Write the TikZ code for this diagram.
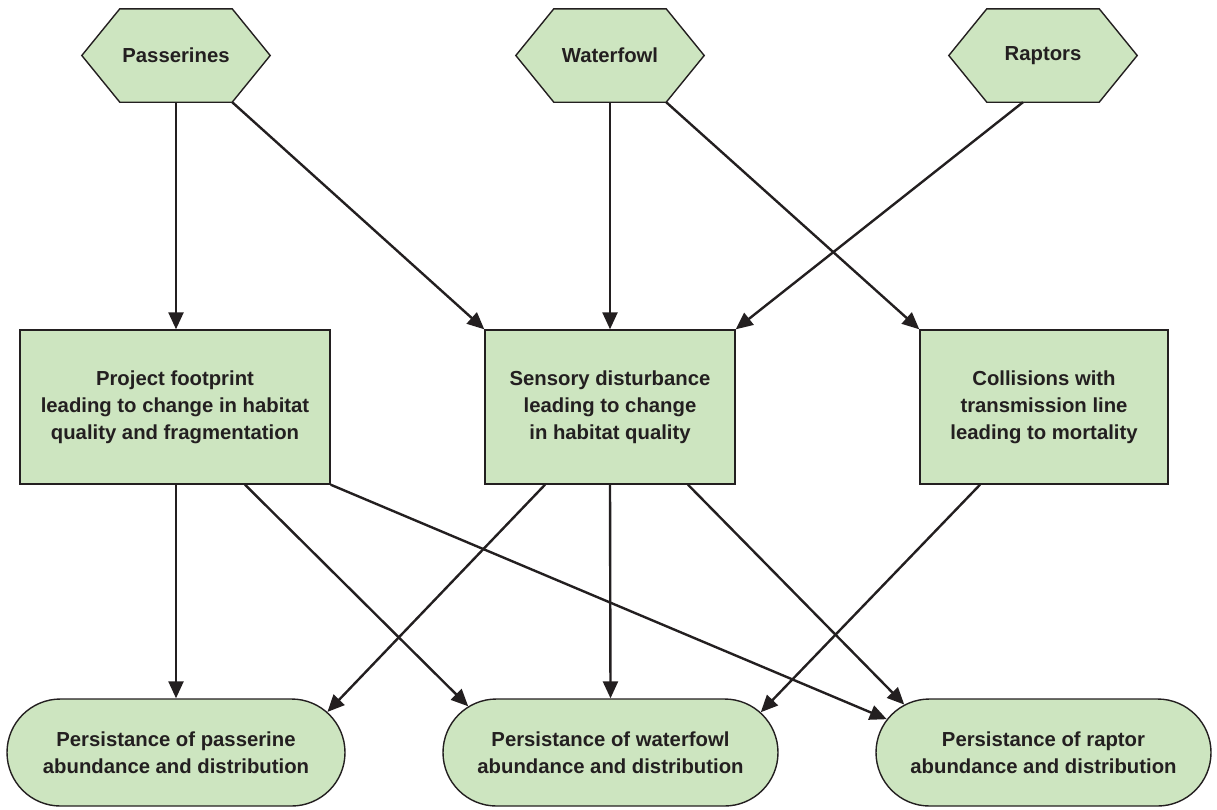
\documentclass[tikz,border=0pt]{standalone}
\usepackage{fontspec}
\setmainfont{Liberation Sans}
\usetikzlibrary{arrows.meta,backgrounds,shapes.misc}
\definecolor{boxfill}{HTML}{CDE5C0}
\definecolor{ink}{HTML}{231F20}
\begin{document}
\begin{tikzpicture}[x=1pt,y=-1pt,
  txt/.style={font=\bfseries\fontsize{20.3}{27}\selectfont, text=ink, align=center},
  rectbox/.style={txt, draw=ink, fill=boxfill, line width=1.4pt, minimum height=154pt, inner sep=0pt},
  pill/.style={txt, draw=ink, fill=boxfill, line width=1.4pt, rounded rectangle, minimum height=107pt, inner sep=0pt},
  hexbox/.style={txt, minimum width=188pt, minimum height=93pt, inner sep=0pt},
  hexline/.style={draw=ink, fill=boxfill, line width=1.4pt, line join=miter},
  arr/.style={draw=ink, line width=2.4pt, -{Triangle[length=17pt,width=15pt]}}]
\useasboundingbox (0,0) rectangle (1217,809);

% top hexagons
\node[hexbox] (pass)  at (176,55.5)  {Passerines};
\node[hexbox] (water) at (610,55.5)  {Waterfowl};
\node[hexbox] (rapt)  at (1043,55.5) {Raptors};
\begin{scope}[on background layer]
\foreach \n in {pass,water,rapt}
  \draw[hexline] (\n.west) -- ([xshift=38pt]\n.north west) -- ([xshift=-38pt]\n.north east)
     -- (\n.east) -- ([xshift=-38pt]\n.south east) -- ([xshift=38pt]\n.south west) -- cycle;
\end{scope}

% middle rectangles
\node[rectbox, minimum width=310pt] (foot) at (175,407)
  {Project footprint\\leading to change in habitat\\quality and fragmentation};
\node[rectbox, minimum width=250pt] (sens) at (610,407)
  {Sensory disturbance\\leading to change\\in habitat quality};
\node[rectbox, minimum width=248pt] (coll) at (1044,407)
  {Collisions with\\transmission line\\leading to mortality};

% bottom pills
\node[pill, minimum width=338pt] (pl) at (176,752.5)
  {Persistance of passerine\\abundance and distribution};
\node[pill, minimum width=335pt] (pm) at (610.5,752.5)
  {Persistance of waterfowl\\abundance and distribution};
\node[pill, minimum width=335pt] (pr) at (1043.5,752.5)
  {Persistance of raptor\\abundance and distribution};

% arrows top -> middle
\draw[arr] (pass.south) -- (pass.south |- foot.north);
\draw[arr] ([xshift=-38pt]pass.south east) -- (sens.north west);
\draw[arr] (water.south) -- (sens.north);
\draw[arr] ([xshift=-38pt]water.south east) -- (coll.north west);
\draw[arr] ([xshift=-20pt]rapt.south) -- (sens.north east);

% arrows middle -> bottom
\draw[arr] ([xshift=1pt]foot.south) -- (pl.north);
\draw[arr] ([xshift=70pt]foot.south) -- (pm.162);
\draw[arr] (foot.south east) -- (pr.168);
\draw[arr] ([xshift=-65pt]sens.south) -- (pl.15);
\draw[arr] (sens.south) -- (pm.north);
\draw[arr] ([xshift=78pt]sens.south) -- (pr.161);
\draw[arr] ([xshift=-64pt]coll.south) -- (pm.15);
\end{tikzpicture}
\end{document}
